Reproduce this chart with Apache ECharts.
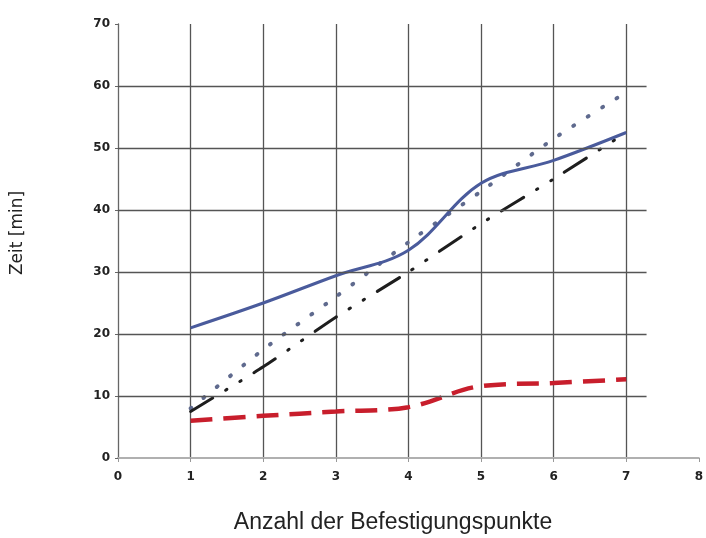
<!DOCTYPE html>
<html>
<head>
<meta charset="utf-8">
<script src="https://cdn.jsdelivr.net/npm/echarts@6/dist/echarts.min.js"></script>
<style>html,body{margin:0;padding:0;background:#fff}#c{width:706px;height:538px}</style>
</head>
<body>
<div id="c"></div>
<script>
var xValues = [1, 2, 3, 4, 5, 6, 7];
var seriesBlue = [21, 25, 29.4, 33.5, 44.3, 48, 52.5];
var seriesDotted = [8, 17.5, 26, 34.8, 43, 51.5, 59];
var seriesDashDot = [7.5, 14.7, 22.7, 30, 37.8, 45, 52.5];
var seriesRed = [6, 6.8, 7.5, 8.2, 11.6, 12.1, 12.7];
var yTicks = [10, 20, 30, 40, 50, 60];
var xTitle = 'Anzahl der Befestigungspunkte';
var yTitle = 'Zeit [min]';

function pairs(vals) { return xValues.map(function (x, i) { return [x, vals[i]]; }); }

var gridLines = yTicks.map(function (v) { return [{ coord: [0, v] }, { coord: [7.28, v] }]; });

var chart = echarts.init(document.getElementById('c'), null, { renderer: 'canvas' });
chart.setOption({
  animation: false,
  backgroundColor: '#fff',
  grid: { left: 118, right: 3, top: 24, bottom: 80, containLabel: false },
  graphic: [
    { type: 'text', x: 393, y: 523, silent: true,
      style: { text: xTitle, textAlign: 'center', textVerticalAlign: 'middle',
        font: '23px "Liberation Sans"', fill: '#222' } },
    { type: 'text', x: 18, y: 233, rotation: Math.PI / 2, silent: true,
      style: { text: yTitle, textAlign: 'center', textVerticalAlign: 'middle',
        font: '17px "DejaVu Sans"', fill: '#222' } }
  ],
  xAxis: {
    type: 'value', min: 0, max: 8, interval: 1,
    axisLine: { show: true, lineStyle: { color: '#b0b0b0', width: 2 } },
    axisTick: { show: true, length: 4, inside: false, lineStyle: { color: '#999' } },
    axisLabel: { color: '#222', fontFamily: 'DejaVu Sans', fontWeight: 'bold', fontSize: 12, margin: 13 },
    splitLine: { show: true, lineStyle: { color: ['transparent', '#555', '#555', '#555', '#555', '#555', '#555', '#555', 'transparent'], width: 1.3 } }
  },
  yAxis: {
    type: 'value', min: 0, max: 70, interval: 10,
    axisLine: { show: true, lineStyle: { color: '#666', width: 1.3 } },
    axisTick: { show: true, length: 3, lineStyle: { color: '#666' } },
    axisLabel: { color: '#222', fontFamily: 'DejaVu Sans', fontWeight: 'bold', fontSize: 12, margin: 8 },
    splitLine: { show: false }
  },
  series: [
    {
      type: 'line', data: [], silent: true,
      markLine: { silent: true, symbol: 'none', label: { show: false },
        lineStyle: { color: '#555', width: 1.3, type: 'solid' }, data: gridLines }
    },
    {
      type: 'line', data: pairs(seriesDotted), smooth: 0.2, showSymbol: false,
      lineStyle: { color: '#5f6a8e', width: 4, type: [1, 16], cap: 'round' }
    },
    {
      type: 'line', data: pairs(seriesDashDot), smooth: 0.2, showSymbol: false,
      lineStyle: { color: '#1e1e1e', width: 3, type: [26, 15, 1.5, 15, 1.5, 15], cap: 'round' }
    },
    {
      type: 'line', data: pairs(seriesBlue), smooth: 0.35, showSymbol: false,
      lineStyle: { color: '#4a5b9c', width: 3 }
    },
    {
      type: 'line', data: pairs(seriesRed), smooth: 0.35, showSymbol: false,
      lineStyle: { color: '#c81e2c', width: 4.5, type: [22, 11] }
    }
  ]
});
</script>
</body>
</html>
